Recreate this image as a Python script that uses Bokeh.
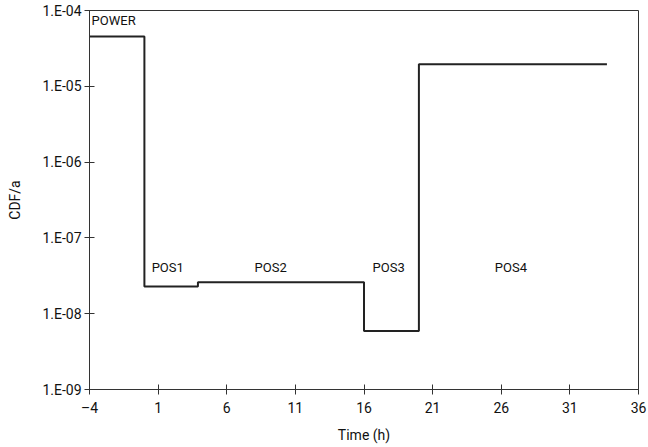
from bokeh.plotting import figure
from bokeh.embed import file_html
from bokeh.resources import INLINE
from bokeh.models import FixedTicker, CustomJSTickFormatter, Range1d
from bokeh.core.properties import value

# data
step_x = [-4, 0, 3.9, 16, 20, 33.7]
step_y = [4.55e-5, 2.28e-8, 2.6e-8, 5.9e-9, 1.95e-5, 1.95e-5]
phase_names = ["POWER", "POS1", "POS2", "POS3", "POS4"]
phase_x = [-3.85, 1.7, 9.2, 17.8, 26.7]
phase_y = [7.4e-5, 4.1e-8, 4.1e-8, 4.1e-8, 4.1e-8]
x_ticks = [-4, 1, 6, 11, 16, 21, 26, 31, 36]
y_ticks = [1e-9, 1e-8, 1e-7, 1e-6, 1e-5, 1e-4]
y_tick_labels = ["1.E-09", "1.E-08", "1.E-07", "1.E-06", "1.E-05", "1.E-04"]

FONT = "Roboto"

p = figure(width=648, height=447, y_axis_type="log", output_backend="svg",
           toolbar_location=None, x_range=Range1d(-4, 36), y_range=Range1d(1e-9, 1e-4),
           min_border_left=89, min_border_right=10, min_border_top=10, min_border_bottom=58)
p.grid.visible = False
p.background_fill_color = "white"
p.border_fill_color = "white"
p.outline_line_color = "#333333"
p.outline_line_width = 1

p.step(step_x, step_y, mode="after", line_color="#222222", line_width=2)

align = ["left", "center", "center", "center", "center"]
for name, x, y, a in zip(phase_names, phase_x, phase_y, align):
    p.text(x=[x], y=[y], text=[name], text_font=value(FONT), text_font_size="13px",
           text_align=a, text_baseline="middle", text_color="#111111")

p.xaxis.ticker = FixedTicker(ticks=x_ticks)
p.yaxis.ticker = FixedTicker(ticks=y_ticks, minor_ticks=[])
p.yaxis.formatter = CustomJSTickFormatter(args=dict(vals=y_ticks, labs=y_tick_labels), code="""
let best = 0, bd = 1e9;
for (let i = 0; i < vals.length; i++) {
  const d = Math.abs(Math.log10(vals[i]) - Math.log10(tick));
  if (d < bd) { bd = d; best = i; }
}
return labs[best];
""")
p.xaxis.formatter = CustomJSTickFormatter(code="return tick < 0 ? '\u2013' + String(-tick) : String(tick);")

for ax in (p.xaxis, p.yaxis):
    ax.axis_line_color = "#333333"
    ax.major_tick_line_color = "#333333"
    ax.major_tick_in = 5
    ax.major_tick_out = 5
    ax.minor_tick_line_color = None
    ax.major_label_text_font = FONT
    ax.major_label_text_font_size = "14px"
    ax.major_label_text_color = "#111111"
    ax.axis_label_text_font = FONT
    ax.axis_label_text_font_size = "14px"
    ax.axis_label_text_font_style = "normal"
    ax.axis_label_text_color = "#111111"

p.xaxis.axis_label = "Time (h)"
p.yaxis.axis_label = "CDF/a"
p.xaxis.major_label_standoff = 5
p.xaxis.axis_label_standoff = 8
p.yaxis.major_label_standoff = 3
p.yaxis.axis_label_standoff = 16

open("out.html", "w").write(file_html(p, INLINE))
